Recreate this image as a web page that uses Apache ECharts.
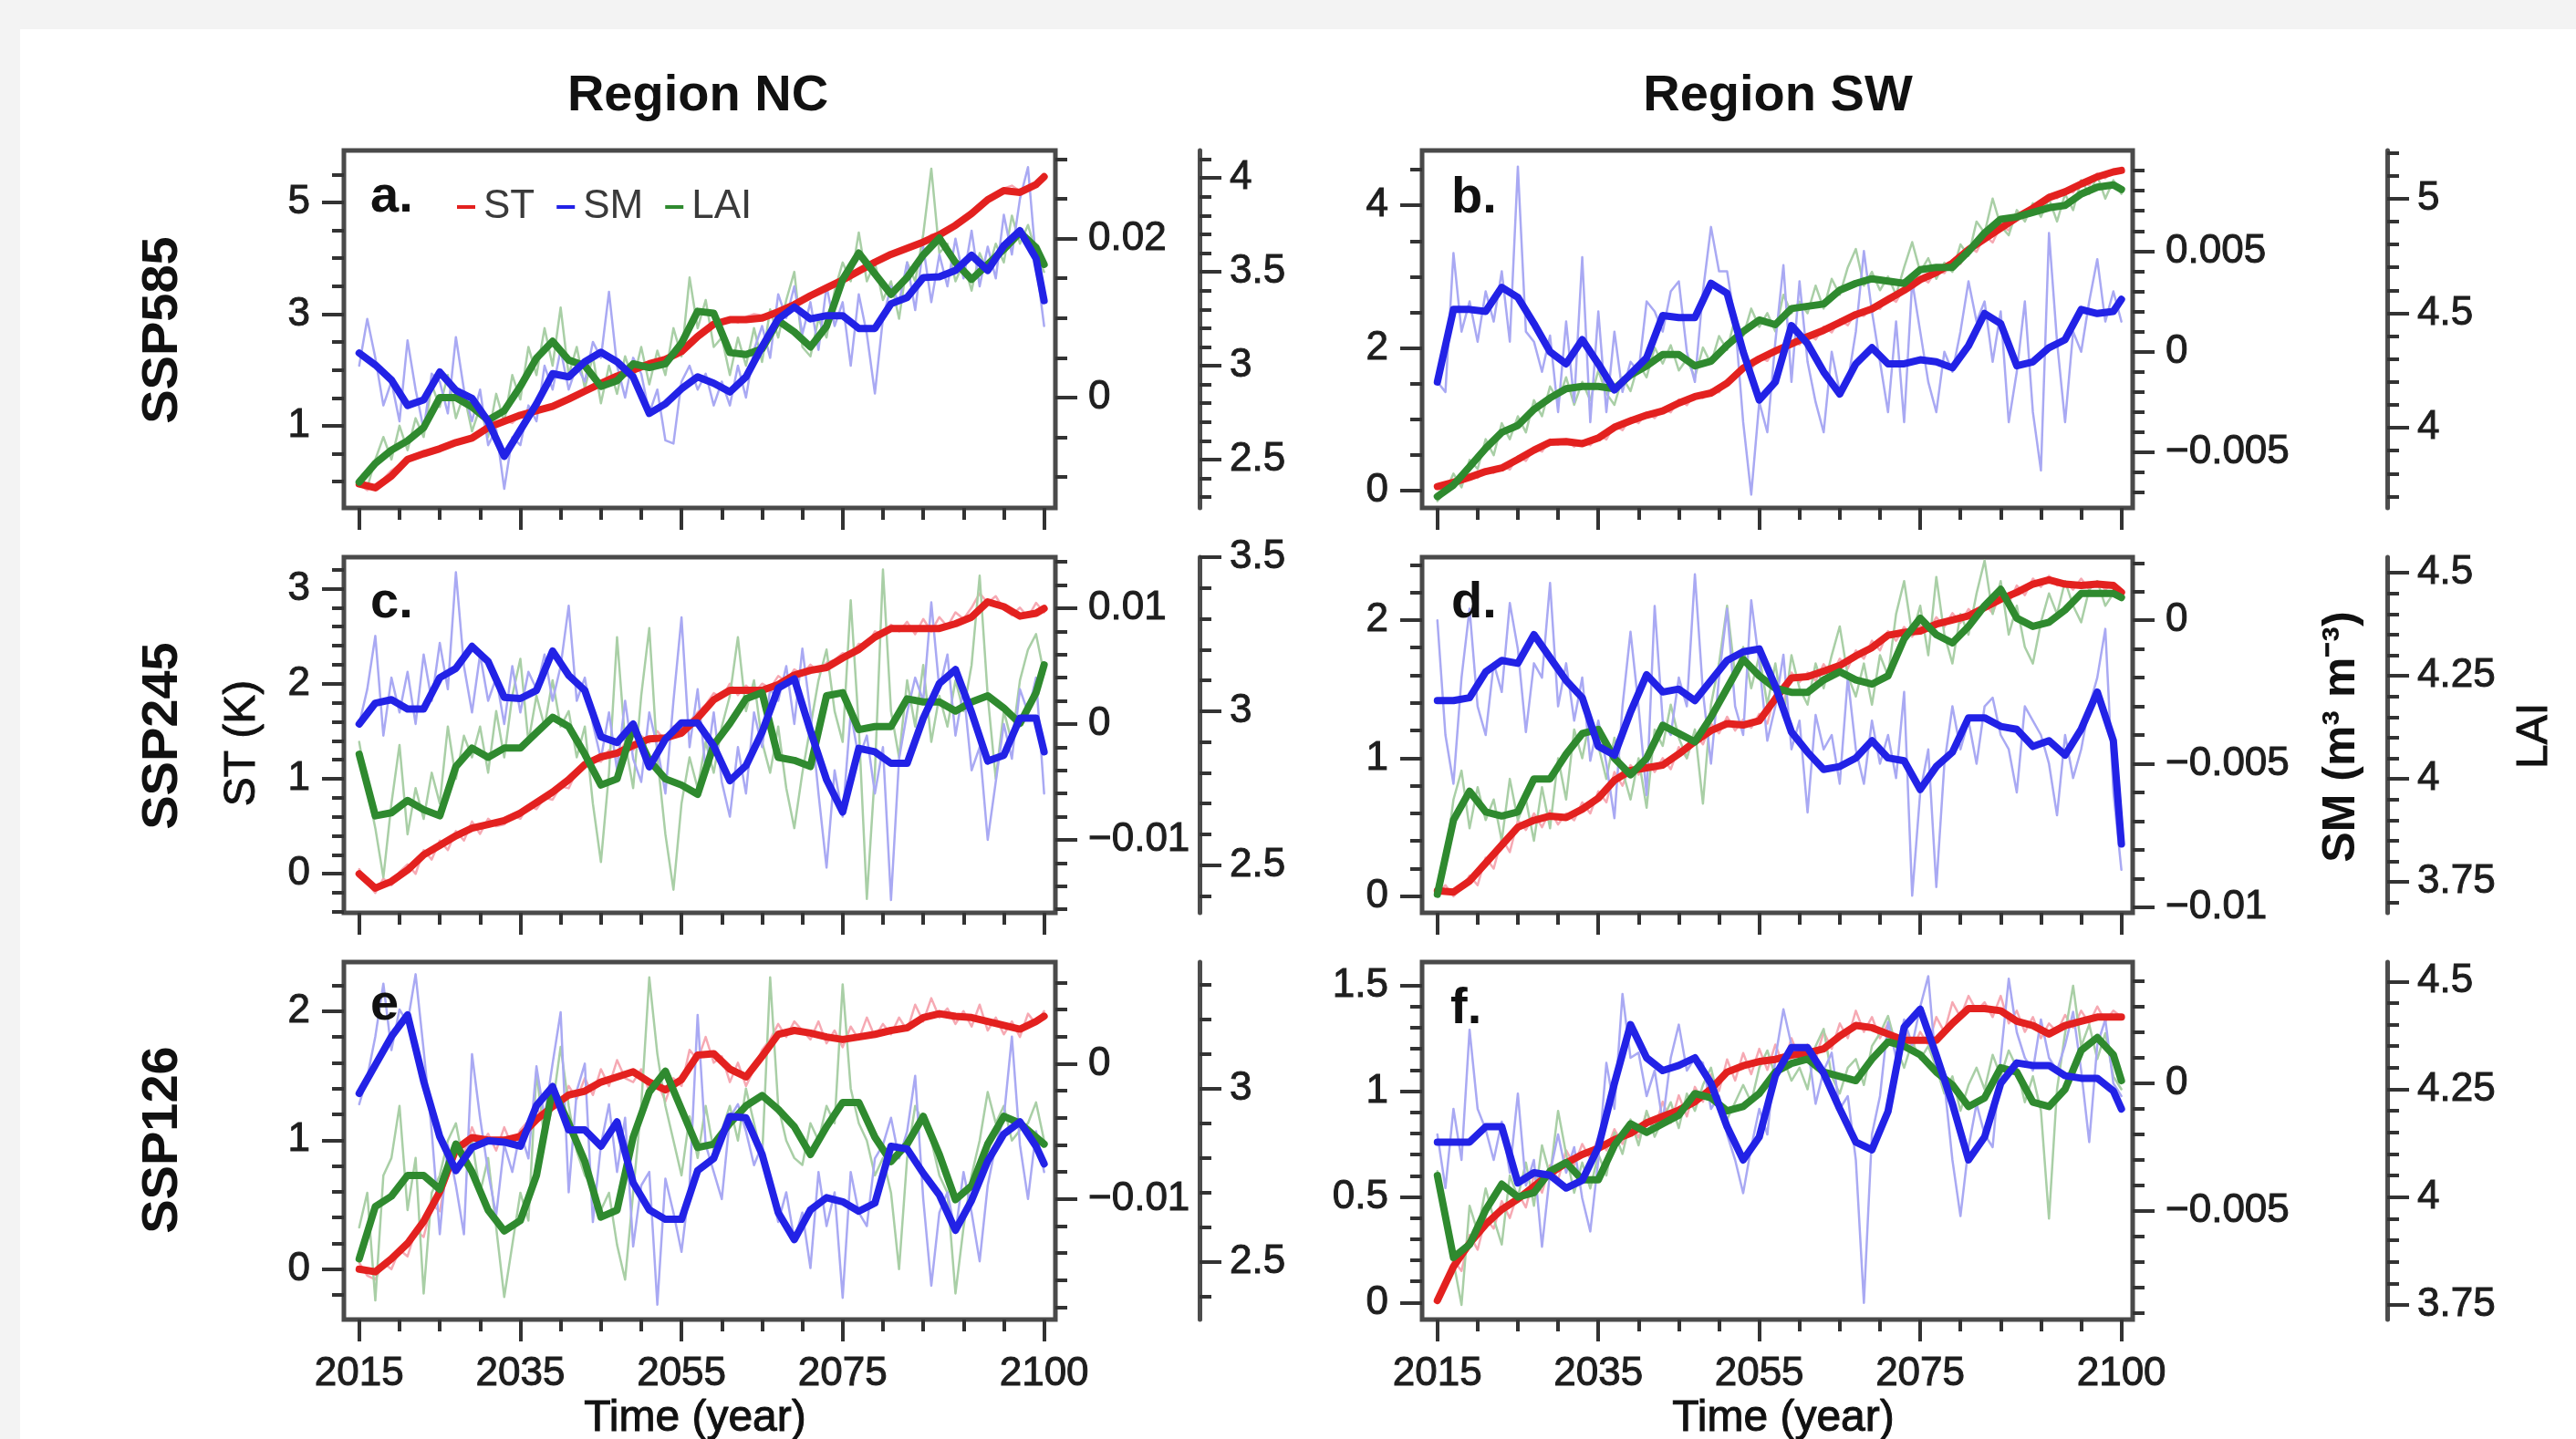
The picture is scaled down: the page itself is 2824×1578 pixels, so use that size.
<!DOCTYPE html>
<html>
<head>
<meta charset="utf-8">
<title>ST, SM and LAI, Region NC and SW</title>
<script src="https://cdn.jsdelivr.net/npm/echarts@6/dist/echarts.min.js"></script>
<style>
  html, body { margin: 0; padding: 0; background: #f3f3f3; }
  #chart { width: 2824px; height: 1578px; }
</style>
</head>
<body>
<div id="chart"></div>
<script>
// years of the annual (thin) and the smoothed (thick) curves
const yearsAnnual = [2015, 2016, 2017, 2018, 2019,
  2020, 2021, 2022, 2023, 2024, 2025, 2026, 2027, 2028, 2029,
  2030, 2031, 2032, 2033, 2034, 2035, 2036, 2037, 2038, 2039,
  2040, 2041, 2042, 2043, 2044, 2045, 2046, 2047, 2048, 2049,
  2050, 2051, 2052, 2053, 2054, 2055, 2056, 2057, 2058, 2059,
  2060, 2061, 2062, 2063, 2064, 2065, 2066, 2067, 2068, 2069,
  2070, 2071, 2072, 2073, 2074, 2075, 2076, 2077, 2078, 2079,
  2080, 2081, 2082, 2083, 2084, 2085, 2086, 2087, 2088, 2089,
  2090, 2091, 2092, 2093, 2094, 2095, 2096, 2097, 2098, 2099,
  2100];
const yearsSmooth = [2015, 2017, 2019, 2021, 2023, 2025, 2027, 2029, 2031, 2033,
  2035, 2037, 2039, 2041, 2043, 2045, 2047, 2049, 2051, 2053,
  2055, 2057, 2059, 2061, 2063, 2065, 2067, 2069, 2071, 2073,
  2075, 2077, 2079, 2081, 2083, 2085, 2087, 2089, 2091, 2093,
  2095, 2097, 2099, 2100];

// ---- a. SSP585, Region NC ----
const stSmoothA = [-0.04, -0.11, 0.10, 0.40, 0.50, 0.59, 0.70, 0.78, 0.97, 1.08, 1.19, 1.27, 1.35, 1.48, 1.62, 1.76, 1.89, 2.00, 2.11, 2.19, 2.33, 2.60, 2.82, 2.90, 2.90, 2.93, 3.04, 3.17, 3.33, 3.47, 3.61, 3.77, 3.93, 4.07, 4.18, 4.29, 4.42, 4.59, 4.80, 5.05, 5.21, 5.18, 5.32, 5.46];
const smSmoothA = [0.0056, 0.0041, 0.0022, -0.0010, -0.0003, 0.0032, 0.0009, -0.0001, -0.0030, -0.0074, -0.0041, -0.0008, 0.0030, 0.0026, 0.0045, 0.0057, 0.0045, 0.0026, -0.0020, -0.0008, 0.0011, 0.0026, 0.0018, 0.0007, 0.0026, 0.0064, 0.0099, 0.0114, 0.0099, 0.0103, 0.0103, 0.0087, 0.0087, 0.0118, 0.0126, 0.0151, 0.0152, 0.0160, 0.0179, 0.0160, 0.0191, 0.0210, 0.0175, 0.0122];
const laiSmoothA = [2.38, 2.48, 2.55, 2.60, 2.67, 2.83, 2.83, 2.78, 2.71, 2.76, 2.89, 3.04, 3.13, 3.03, 3.00, 2.89, 2.92, 3.01, 2.99, 3.01, 3.12, 3.29, 3.28, 3.07, 3.06, 3.09, 3.24, 3.18, 3.10, 3.21, 3.46, 3.60, 3.49, 3.38, 3.47, 3.59, 3.68, 3.55, 3.46, 3.54, 3.62, 3.71, 3.63, 3.54];
const stAnnualA = [-0.05, -0.15, -0.05, 0.05, 0.20,
  0.30, 0.42, 0.45, 0.55, 0.50, 0.62, 0.65, 0.72, 0.70, 0.82,
  0.90, 0.95, 1.05, 1.10, 1.05, 1.20, 1.22, 1.30, 1.32, 1.38,
  1.42, 1.50, 1.55, 1.62, 1.70, 1.75, 1.88, 1.90, 1.95, 2.02,
  2.08, 2.10, 2.12, 2.22, 2.25, 2.35, 2.50, 2.62, 2.70, 2.85,
  2.88, 2.92, 2.85, 2.95, 3.00, 2.98, 3.00, 3.05, 3.12, 3.18,
  3.25, 3.32, 3.40, 3.45, 3.55, 3.62, 3.70, 3.78, 3.80, 3.95,
  4.00, 4.08, 4.12, 4.20, 4.22, 4.30, 4.42, 4.45, 4.50, 4.60,
  4.70, 4.82, 4.92, 5.05, 5.15, 5.25, 5.30, 5.20, 5.25, 5.35,
  5.50];
const smAnnualA = [0.0040, 0.0099, 0.0050, -0.0010, 0.0020,
  -0.0030, 0.0072, 0.0010, -0.0040, 0.0030, 0.0020, -0.0020, 0.0076, 0.0010, -0.0030,
  0.0010, -0.0060, -0.0040, -0.0115, -0.0050, -0.0060, -0.0010, -0.0030, 0.0040, 0.0010,
  0.0060, 0.0010, 0.0040, 0.0020, 0.0070, 0.0050, 0.0133, 0.0040, 0.0000, 0.0050,
  0.0030, -0.0020, 0.0010, -0.0054, -0.0058, 0.0020, 0.0040, 0.0010, 0.0030, -0.0010,
  0.0020, -0.0010, 0.0040, 0.0000, 0.0060, 0.0090, 0.0050, 0.0130, 0.0100, 0.0140,
  0.0080, 0.0120, 0.0060, 0.0140, 0.0090, 0.0120, 0.0040, 0.0130, 0.0080, 0.0005,
  0.0100, 0.0140, 0.0120, 0.0170, 0.0110, 0.0190, 0.0120, 0.0180, 0.0140, 0.0200,
  0.0150, 0.0210, 0.0140, 0.0190, 0.0150, 0.0230, 0.0180, 0.0250, 0.0290, 0.0170,
  0.0090];
const laiAnnualA = [2.40, 2.35, 2.50, 2.62, 2.50,
  2.68, 2.55, 2.72, 2.62, 2.90, 2.78, 2.95, 2.72, 2.85, 2.65,
  2.78, 2.62, 2.85, 2.70, 2.95, 2.82, 3.10, 2.95, 3.20, 3.00,
  3.31, 2.95, 3.10, 2.88, 3.05, 2.80, 3.00, 2.85, 3.05, 2.92,
  3.10, 2.90, 3.08, 2.95, 3.20, 3.05, 3.47, 3.20, 3.35, 3.10,
  3.15, 2.95, 3.15, 3.00, 3.20, 3.02, 3.30, 3.15, 3.35, 3.50,
  3.10, 3.05, 3.25, 3.15, 3.40, 3.55, 3.45, 3.71, 3.45, 3.55,
  3.35, 3.45, 3.25, 3.55, 3.45, 3.70, 4.05, 3.60, 3.65, 3.45,
  3.55, 3.40, 3.60, 3.50, 3.65, 3.55, 3.80, 3.65, 3.75, 3.60,
  3.50];

// ---- b. SSP585, Region SW ----
const stSmoothB = [0.06, 0.12, 0.19, 0.27, 0.32, 0.44, 0.57, 0.68, 0.69, 0.66, 0.74, 0.89, 0.98, 1.06, 1.12, 1.23, 1.32, 1.37, 1.51, 1.72, 1.85, 1.96, 2.06, 2.16, 2.25, 2.36, 2.47, 2.55, 2.68, 2.81, 2.96, 3.06, 3.19, 3.38, 3.53, 3.68, 3.83, 3.96, 4.11, 4.19, 4.30, 4.40, 4.47, 4.49];
const smSmoothB = [-0.0015, 0.0021, 0.0021, 0.0020, 0.0032, 0.0027, 0.0014, 0.0000, -0.0006, 0.0006, -0.0006, -0.0019, -0.0011, -0.0003, 0.0018, 0.0017, 0.0017, 0.0034, 0.0029, 0.0000, -0.0024, -0.0015, 0.0013, 0.0004, -0.0010, -0.0021, -0.0006, 0.0002, -0.0006, -0.0006, -0.0004, -0.0005, -0.0008, 0.0003, 0.0019, 0.0014, -0.0007, -0.0005, 0.0002, 0.0006, 0.0021, 0.0019, 0.0020, 0.0026];
const laiSmoothB = [3.70, 3.75, 3.83, 3.91, 3.98, 4.01, 4.08, 4.13, 4.17, 4.18, 4.18, 4.17, 4.23, 4.27, 4.32, 4.32, 4.27, 4.29, 4.36, 4.42, 4.47, 4.45, 4.52, 4.53, 4.54, 4.60, 4.63, 4.65, 4.64, 4.63, 4.69, 4.70, 4.70, 4.77, 4.85, 4.91, 4.92, 4.94, 4.96, 4.97, 5.02, 5.05, 5.06, 5.04];
const stAnnualB = [0.05, 0.00, 0.15, 0.10, 0.22,
  0.18, 0.30, 0.25, 0.35, 0.30, 0.48, 0.42, 0.60, 0.55, 0.72,
  0.65, 0.72, 0.62, 0.70, 0.64, 0.78, 0.72, 0.92, 0.85, 1.02,
  0.95, 1.10, 1.02, 1.15, 1.10, 1.28, 1.20, 1.35, 1.30, 1.42,
  1.38, 1.55, 1.62, 1.75, 1.70, 1.88, 1.82, 2.00, 1.95, 2.10,
  2.05, 2.20, 2.12, 2.30, 2.22, 2.40, 2.32, 2.50, 2.45, 2.58,
  2.55, 2.72, 2.65, 2.85, 2.80, 3.00, 2.92, 3.10, 3.05, 3.22,
  3.18, 3.42, 3.35, 3.58, 3.48, 3.72, 3.65, 3.88, 3.80, 4.00,
  3.95, 4.15, 4.10, 4.22, 4.18, 4.35, 4.28, 4.45, 4.38, 4.50,
  4.48];
const smAnnualB = [-0.0015, -0.0020, 0.0049, 0.0010, 0.0025,
  0.0005, 0.0030, 0.0015, 0.0040, 0.0005, 0.0092, 0.0010, 0.0005, -0.0010, 0.0008,
  -0.0030, 0.0015, -0.0025, 0.0047, -0.0035, 0.0020, -0.0030, 0.0010, -0.0020, -0.0005,
  -0.0010, 0.0025, 0.0020, 0.0010, 0.0030, 0.0035, 0.0000, -0.0015, 0.0030, 0.0062,
  0.0040, 0.0040, 0.0015, -0.0035, -0.0071, -0.0025, -0.0040, 0.0005, 0.0043, -0.0015,
  0.0035, -0.0005, -0.0025, -0.0040, 0.0000, -0.0020, -0.0015, 0.0010, 0.0050, 0.0020,
  -0.0005, -0.0030, 0.0015, -0.0035, 0.0035, 0.0010, -0.0015, -0.0030, 0.0000, -0.0010,
  0.0010, 0.0035, 0.0015, 0.0025, -0.0005, 0.0020, -0.0035, -0.0010, 0.0025, -0.0030,
  -0.0059, 0.0059, 0.0005, -0.0035, 0.0010, 0.0000, 0.0025, 0.0046, 0.0015, 0.0030,
  0.0015];
const laiAnnualB = [3.68, 3.72, 3.80, 3.74, 3.86,
  3.82, 3.95, 3.88, 4.02, 3.95, 4.05, 3.98, 4.12, 4.05, 4.18,
  4.12, 4.22, 4.10, 4.20, 4.12, 4.25, 4.15, 4.10, 4.22, 4.16,
  4.28, 4.22, 4.35, 4.28, 4.36, 4.25, 4.30, 4.22, 4.35, 4.28,
  4.40, 4.34, 4.48, 4.40, 4.52, 4.44, 4.50, 4.42, 4.58, 4.50,
  4.55, 4.50, 4.62, 4.52, 4.65, 4.58, 4.70, 4.78, 4.62, 4.68,
  4.60, 4.66, 4.58, 4.70, 4.81, 4.68, 4.74, 4.65, 4.72, 4.68,
  4.80, 4.75, 4.90, 4.85, 5.00, 4.88, 4.84, 4.95, 4.90, 4.98,
  4.92, 5.00, 4.90, 5.02, 4.95, 5.08, 5.02, 5.10, 5.00, 5.08,
  5.02];

// ---- c. SSP245, Region NC ----
const stSmoothC = [0.00, -0.15, -0.08, 0.04, 0.20, 0.30, 0.40, 0.48, 0.52, 0.56, 0.64, 0.75, 0.86, 0.99, 1.15, 1.23, 1.27, 1.35, 1.42, 1.43, 1.48, 1.64, 1.83, 1.93, 1.93, 1.93, 1.99, 2.09, 2.14, 2.17, 2.27, 2.36, 2.49, 2.58, 2.58, 2.58, 2.58, 2.63, 2.70, 2.86, 2.81, 2.71, 2.74, 2.79];
const smSmoothC = [0.0000, 0.0018, 0.0021, 0.0013, 0.0013, 0.0040, 0.0048, 0.0067, 0.0054, 0.0023, 0.0022, 0.0029, 0.0063, 0.0042, 0.0029, -0.0011, -0.0016, 0.0000, -0.0037, -0.0013, 0.0001, 0.0001, -0.0019, -0.0049, -0.0036, -0.0007, 0.0031, 0.0039, -0.0006, -0.0048, -0.0076, -0.0021, -0.0024, -0.0034, -0.0034, 0.0005, 0.0035, 0.0047, 0.0010, -0.0032, -0.0027, 0.0005, 0.0005, -0.0024];
const laiSmoothC = [2.86, 2.66, 2.67, 2.71, 2.68, 2.66, 2.82, 2.88, 2.85, 2.88, 2.88, 2.93, 2.98, 2.95, 2.86, 2.76, 2.78, 2.95, 2.84, 2.78, 2.76, 2.73, 2.89, 2.96, 3.04, 3.06, 2.85, 2.84, 2.82, 3.05, 3.06, 2.94, 2.95, 2.95, 3.04, 3.03, 3.03, 3.00, 3.03, 3.05, 3.01, 2.96, 3.06, 3.15];
const stAnnualC = [0.05, -0.10, -0.20, -0.05, -0.12,
  0.02, 0.10, 0.00, 0.25, 0.15, 0.35, 0.25, 0.45, 0.35, 0.55,
  0.42, 0.58, 0.50, 0.52, 0.62, 0.58, 0.72, 0.68, 0.80, 0.78,
  0.92, 0.90, 1.08, 1.12, 1.20, 1.18, 1.30, 1.22, 1.38, 1.30,
  1.45, 1.38, 1.50, 1.40, 1.55, 1.45, 1.60, 1.70, 1.78, 1.90,
  1.85, 2.00, 1.88, 1.98, 1.90, 2.00, 1.95, 2.08, 2.02, 2.15,
  2.10, 2.20, 2.12, 2.22, 2.25, 2.32, 2.30, 2.42, 2.40, 2.55,
  2.52, 2.62, 2.55, 2.65, 2.52, 2.68, 2.55, 2.70, 2.60, 2.75,
  2.68, 2.80, 2.95, 2.85, 2.92, 2.78, 2.72, 2.80, 2.70, 2.85,
  2.75];
const smAnnualC = [0.0000, 0.0030, 0.0076, -0.0010, 0.0040,
  0.0010, 0.0045, 0.0000, 0.0060, 0.0020, 0.0070, 0.0030, 0.0131, 0.0050, 0.0010,
  0.0060, 0.0020, 0.0040, 0.0000, 0.0050, 0.0010, 0.0045, 0.0030, 0.0060, 0.0020,
  0.0050, 0.0102, 0.0020, 0.0040, 0.0000, -0.0030, 0.0010, -0.0040, 0.0020, -0.0030,
  -0.0050, 0.0010, -0.0020, -0.0060, 0.0020, 0.0092, -0.0020, 0.0030, -0.0040, 0.0010,
  -0.0050, -0.0080, -0.0020, -0.0060, 0.0010, -0.0020, 0.0030, 0.0020, 0.0050, 0.0000,
  0.0065, 0.0010, -0.0060, -0.0124, -0.0040, -0.0080, 0.0010, -0.0030, -0.0010, -0.0060,
  -0.0020, -0.0152, -0.0030, 0.0010, 0.0040, 0.0020, 0.0105, 0.0030, 0.0060, -0.0010,
  0.0030, -0.0040, -0.0020, -0.0100, -0.0050, 0.0000, -0.0030, 0.0030, 0.0010, 0.0040,
  -0.0060];
const laiAnnualC = [2.90, 2.75, 2.62, 2.46, 2.70,
  2.89, 2.60, 2.75, 2.65, 2.80, 2.70, 2.95, 2.78, 2.92, 2.85,
  2.95, 2.80, 3.00, 2.85, 3.05, 3.17, 2.90, 3.05, 2.95, 3.10,
  2.95, 3.00, 2.85, 2.95, 2.70, 2.51, 2.80, 3.24, 2.90, 2.75,
  3.05, 3.27, 2.85, 2.60, 2.42, 2.70, 2.85, 2.75, 2.90, 2.80,
  2.95, 3.05, 3.24, 3.00, 3.10, 2.90, 2.80, 2.95, 2.75, 2.62,
  2.80, 2.95, 3.10, 3.20, 3.00, 2.90, 3.36, 2.95, 2.39, 2.80,
  3.46, 3.00, 2.85, 3.10, 2.95, 3.15, 2.90, 3.05, 2.95, 3.10,
  3.00, 3.15, 3.44, 3.05, 2.78, 3.00, 2.90, 3.10, 3.20, 3.25,
  3.12];

// ---- d. SSP245, Region SW ----
const stSmoothD = [0.04, 0.03, 0.11, 0.24, 0.37, 0.50, 0.55, 0.58, 0.57, 0.63, 0.71, 0.84, 0.91, 0.93, 0.95, 1.03, 1.12, 1.20, 1.25, 1.24, 1.27, 1.43, 1.58, 1.59, 1.63, 1.67, 1.74, 1.80, 1.89, 1.91, 1.92, 1.97, 2.00, 2.03, 2.09, 2.15, 2.20, 2.26, 2.29, 2.26, 2.25, 2.26, 2.25, 2.20];
const smSmoothD = [-0.0028, -0.0028, -0.0027, -0.0018, -0.0014, -0.0015, -0.0005, -0.0013, -0.0021, -0.0027, -0.0044, -0.0047, -0.0032, -0.0019, -0.0025, -0.0024, -0.0028, -0.0021, -0.0014, -0.0011, -0.0010, -0.0023, -0.0039, -0.0046, -0.0052, -0.0051, -0.0048, -0.0042, -0.0048, -0.0049, -0.0059, -0.0051, -0.0046, -0.0034, -0.0034, -0.0037, -0.0038, -0.0044, -0.0042, -0.0047, -0.0038, -0.0025, -0.0042, -0.0078];
const laiSmoothD = [3.72, 3.90, 3.97, 3.92, 3.91, 3.92, 4.00, 4.00, 4.06, 4.11, 4.12, 4.05, 4.01, 4.05, 4.13, 4.11, 4.09, 4.15, 4.22, 4.29, 4.25, 4.22, 4.21, 4.21, 4.24, 4.26, 4.24, 4.23, 4.25, 4.34, 4.39, 4.35, 4.33, 4.37, 4.42, 4.46, 4.39, 4.37, 4.38, 4.41, 4.45, 4.45, 4.45, 4.44];
const stAnnualD = [0.02, 0.08, 0.00, 0.06, 0.15,
  0.08, 0.28, 0.20, 0.42, 0.32, 0.55, 0.48, 0.60, 0.50, 0.62,
  0.52, 0.60, 0.55, 0.68, 0.60, 0.76, 0.68, 0.90, 0.80, 0.95,
  0.88, 0.98, 0.90, 1.00, 0.92, 1.08, 1.00, 1.18, 1.10, 1.25,
  1.18, 1.30, 1.20, 1.28, 1.22, 1.32, 1.25, 1.48, 1.40, 1.62,
  1.55, 1.62, 1.56, 1.68, 1.60, 1.72, 1.65, 1.78, 1.72, 1.85,
  1.78, 1.92, 1.85, 1.95, 1.88, 1.96, 1.92, 2.02, 1.95, 2.05,
  1.98, 2.08, 2.02, 2.12, 2.05, 2.20, 2.12, 2.25, 2.18, 2.30,
  2.24, 2.32, 2.25, 2.28, 2.22, 2.30, 2.22, 2.28, 2.22, 2.27,
  2.18];
const smAnnualD = [0.0000, -0.0040, -0.0057, -0.0020, 0.0004,
  -0.0030, -0.0040, -0.0015, -0.0025, 0.0006, -0.0010, -0.0039, -0.0015, -0.0020, 0.0013,
  -0.0030, -0.0015, -0.0035, -0.0020, -0.0049, -0.0035, -0.0050, -0.0069, -0.0030, -0.0004,
  -0.0030, -0.0061, 0.0005, -0.0035, -0.0040, -0.0020, -0.0030, 0.0016, -0.0025, -0.0050,
  -0.0020, 0.0004, -0.0030, -0.0040, 0.0007, -0.0015, -0.0042, -0.0030, -0.0012, -0.0045,
  -0.0035, -0.0067, -0.0033, -0.0045, -0.0040, -0.0057, -0.0020, -0.0045, -0.0057, -0.0035,
  -0.0050, -0.0040, -0.0055, -0.0025, -0.0096, -0.0060, -0.0045, -0.0093, -0.0050, -0.0030,
  -0.0045, -0.0035, -0.0050, -0.0030, -0.0027, -0.0040, -0.0045, -0.0060, -0.0030, -0.0035,
  -0.0040, -0.0050, -0.0068, -0.0040, -0.0055, -0.0045, -0.0030, -0.0020, -0.0003, -0.0060,
  -0.0087];
const laiAnnualD = [3.72, 3.80, 3.95, 4.02, 3.88,
  3.98, 3.90, 3.95, 3.85, 4.00, 3.90, 3.95, 3.85, 3.98, 3.88,
  4.05, 3.95, 4.12, 4.05, 4.15, 4.08, 4.00, 4.10, 4.02, 3.95,
  4.05, 3.93, 4.12, 4.08, 4.18, 4.10, 4.05, 4.12, 3.94, 4.18,
  4.28, 4.42, 4.25, 4.32, 4.22, 4.30, 4.18, 4.28, 4.15, 4.30,
  4.22, 4.18, 4.28, 4.22, 4.30, 4.37, 4.25, 4.20, 4.28, 4.18,
  4.30, 4.25, 4.40, 4.48, 4.35, 4.42, 4.30, 4.49, 4.35, 4.28,
  4.40, 4.35, 4.45, 4.53, 4.40, 4.48, 4.35, 4.42, 4.32, 4.28,
  4.38, 4.45, 4.40, 4.48, 4.42, 4.38, 4.46, 4.48, 4.42, 4.45,
  4.44];

// ---- e. SSP126, Region NC ----
const stSmoothE = [0.00, -0.02, 0.08, 0.20, 0.37, 0.60, 0.93, 1.02, 1.00, 1.00, 1.03, 1.16, 1.26, 1.35, 1.38, 1.45, 1.49, 1.53, 1.45, 1.39, 1.47, 1.66, 1.67, 1.55, 1.49, 1.65, 1.82, 1.85, 1.83, 1.80, 1.78, 1.80, 1.82, 1.85, 1.87, 1.95, 1.98, 1.96, 1.95, 1.92, 1.89, 1.86, 1.92, 1.96];
const smSmoothE = [-0.0022, -0.0001, 0.0020, 0.0036, -0.0013, -0.0054, -0.0079, -0.0062, -0.0057, -0.0058, -0.0061, -0.0031, -0.0017, -0.0049, -0.0049, -0.0061, -0.0043, -0.0088, -0.0108, -0.0115, -0.0115, -0.0079, -0.0070, -0.0039, -0.0040, -0.0067, -0.0110, -0.0130, -0.0108, -0.0099, -0.0102, -0.0109, -0.0103, -0.0061, -0.0063, -0.0081, -0.0097, -0.0123, -0.0101, -0.0072, -0.0052, -0.0043, -0.0061, -0.0074];
const laiSmoothE = [2.51, 2.66, 2.69, 2.75, 2.75, 2.71, 2.84, 2.76, 2.65, 2.59, 2.62, 2.75, 3.00, 2.90, 2.79, 2.63, 2.65, 2.86, 2.99, 3.05, 2.94, 2.83, 2.84, 2.90, 2.95, 2.98, 2.94, 2.89, 2.81, 2.89, 2.96, 2.96, 2.86, 2.79, 2.84, 2.92, 2.81, 2.68, 2.72, 2.84, 2.92, 2.90, 2.86, 2.84];
const stAnnualE = [0.05, -0.05, -0.08, 0.05, 0.00,
  0.15, 0.10, 0.30, 0.25, 0.50, 0.45, 0.80, 0.95, 0.90, 1.10,
  0.95, 1.05, 0.92, 1.10, 0.95, 1.08, 1.15, 1.25, 1.15, 1.35,
  1.25, 1.42, 1.32, 1.48, 1.35, 1.55, 1.42, 1.62, 1.48, 1.45,
  1.55, 1.38, 1.45, 1.30, 1.48, 1.42, 1.70, 1.62, 1.80, 1.60,
  1.65, 1.45, 1.60, 1.42, 1.55, 1.70, 1.78, 1.90, 1.80, 1.92,
  1.85, 1.78, 1.92, 1.75, 1.85, 1.72, 1.88, 1.78, 1.95, 1.80,
  1.90, 1.82, 1.95, 1.85, 2.05, 1.92, 2.10, 1.95, 2.02, 1.90,
  2.00, 1.88, 2.05, 1.85, 1.95, 1.82, 1.92, 1.80, 1.98, 1.90,
  2.00];
const smAnnualE = [-0.0030, -0.0010, 0.0020, 0.0059, 0.0010,
  0.0040, 0.0030, 0.0066, 0.0010, -0.0050, -0.0126, -0.0060, -0.0090, -0.0126, 0.0007,
  -0.0040, -0.0080, -0.0112, -0.0060, -0.0080, -0.0050, -0.0070, -0.0002, -0.0040, 0.0000,
  0.0038, -0.0095, -0.0020, 0.0000, -0.0117, -0.0060, -0.0030, -0.0080, -0.0040, -0.0135,
  -0.0090, -0.0080, -0.0178, -0.0085, -0.0110, -0.0139, -0.0090, 0.0036, -0.0060, -0.0080,
  -0.0100, -0.0040, -0.0030, -0.0050, -0.0075, -0.0060, -0.0090, -0.0117, -0.0095, -0.0130,
  -0.0110, -0.0151, -0.0080, -0.0120, -0.0095, -0.0173, -0.0080, -0.0110, -0.0120, -0.0070,
  -0.0060, -0.0040, -0.0070, -0.0050, -0.0009, -0.0100, -0.0164, -0.0110, -0.0095, -0.0125,
  -0.0080, -0.0110, -0.0146, -0.0090, -0.0060, -0.0040, 0.0020, -0.0060, -0.0100, -0.0050,
  -0.0080];
const laiAnnualE = [2.60, 2.70, 2.39, 2.75, 2.80,
  2.95, 2.65, 2.80, 2.41, 2.70, 2.75, 2.85, 2.90, 2.78, 2.85,
  2.70, 2.80, 2.60, 2.40, 2.55, 2.70, 2.62, 3.05, 2.85, 2.95,
  3.12, 2.95, 2.82, 2.75, 2.72, 2.65, 2.70, 2.55, 2.45, 2.70,
  2.95, 3.32, 3.10, 2.95, 2.85, 2.75, 2.92, 2.80, 2.95, 2.82,
  2.88, 2.95, 2.85, 3.00, 2.90, 2.80, 3.32, 2.95, 2.85, 2.80,
  2.78, 2.90, 2.85, 2.95, 2.90, 3.30, 3.00, 2.90, 2.85, 2.75,
  2.80, 2.70, 2.48, 2.80, 2.95, 2.90, 2.85, 2.75, 2.70, 2.41,
  2.60, 2.75, 2.85, 2.99, 2.90, 2.95, 2.85, 2.88, 2.90, 2.96,
  2.85];

// ---- f. SSP126, Region SW ----
const stSmoothF = [0.01, 0.17, 0.28, 0.37, 0.44, 0.49, 0.55, 0.61, 0.66, 0.70, 0.73, 0.77, 0.80, 0.85, 0.88, 0.91, 0.95, 1.01, 1.09, 1.12, 1.14, 1.15, 1.17, 1.18, 1.20, 1.26, 1.31, 1.30, 1.27, 1.24, 1.24, 1.24, 1.32, 1.39, 1.39, 1.38, 1.33, 1.31, 1.27, 1.31, 1.33, 1.35, 1.35, 1.35];
const smSmoothF = [-0.0023, -0.0023, -0.0023, -0.0017, -0.0017, -0.0039, -0.0035, -0.0036, -0.0041, -0.0038, -0.0025, 0.0000, 0.0023, 0.0010, 0.0005, 0.0007, 0.0010, 0.0000, -0.0017, -0.0030, -0.0021, 0.0003, 0.0014, 0.0014, 0.0004, -0.0010, -0.0023, -0.0026, -0.0011, 0.0022, 0.0029, 0.0011, -0.0008, -0.0030, -0.0021, 0.0000, 0.0008, 0.0007, 0.0007, 0.0003, 0.0002, 0.0002, -0.0003, -0.0010];
const laiSmoothF = [4.05, 3.86, 3.89, 3.97, 4.03, 4.00, 4.01, 4.06, 4.08, 4.04, 4.04, 4.12, 4.17, 4.15, 4.17, 4.19, 4.24, 4.23, 4.20, 4.21, 4.24, 4.29, 4.31, 4.32, 4.29, 4.28, 4.27, 4.32, 4.36, 4.35, 4.33, 4.29, 4.26, 4.21, 4.23, 4.30, 4.29, 4.22, 4.21, 4.25, 4.34, 4.37, 4.33, 4.27];
const stAnnualF = [0.00, 0.10, 0.20, 0.15, 0.32,
  0.25, 0.40, 0.35, 0.48, 0.40, 0.52, 0.45, 0.60, 0.52, 0.65,
  0.58, 0.72, 0.65, 0.75, 0.68, 0.78, 0.72, 0.82, 0.75, 0.85,
  0.78, 0.90, 0.82, 0.95, 0.85, 0.98, 0.88, 1.02, 0.95, 1.08,
  1.00, 1.15, 1.05, 1.18, 1.08, 1.20, 1.10, 1.22, 1.12, 1.25,
  1.15, 1.22, 1.15, 1.28, 1.20, 1.32, 1.25, 1.38, 1.28, 1.35,
  1.25, 1.32, 1.22, 1.30, 1.20, 1.28, 1.22, 1.35, 1.28, 1.42,
  1.35, 1.45, 1.38, 1.42, 1.35, 1.45, 1.32, 1.38, 1.28, 1.35,
  1.25, 1.32, 1.28, 1.36, 1.30, 1.38, 1.32, 1.40, 1.33, 1.38,
  1.35];
const smAnnualF = [-0.0020, -0.0041, -0.0010, -0.0030, 0.0021,
  -0.0010, -0.0018, -0.0030, -0.0015, -0.0035, -0.0004, -0.0040, -0.0030, -0.0064, -0.0035,
  -0.0020, -0.0035, -0.0025, -0.0045, -0.0058, -0.0030, 0.0008, -0.0010, 0.0035, 0.0010,
  0.0012, -0.0005, 0.0005, -0.0015, 0.0010, 0.0023, 0.0005, 0.0010, 0.0008, -0.0010,
  -0.0005, -0.0020, -0.0030, -0.0043, -0.0025, -0.0010, -0.0020, 0.0010, 0.0029, 0.0015,
  0.0010, 0.0015, -0.0008, 0.0005, 0.0012, -0.0010, -0.0005, -0.0030, -0.0086, -0.0020,
  -0.0005, 0.0024, 0.0010, 0.0025, 0.0015, 0.0030, 0.0042, 0.0005, 0.0000, -0.0030,
  -0.0052, -0.0025, -0.0008, -0.0020, -0.0025, 0.0010, 0.0041, 0.0020, 0.0010, 0.0005,
  0.0025, 0.0010, 0.0005, 0.0015, 0.0028, 0.0005, -0.0023, 0.0015, 0.0025, 0.0000,
  -0.0005];
const laiAnnualF = [4.06, 3.95, 3.85, 3.75, 3.98,
  3.92, 4.02, 3.95, 3.89, 4.05, 4.00, 4.08, 3.98, 4.12, 4.05,
  4.20, 4.10, 4.01, 4.08, 4.02, 4.10, 4.05, 4.15, 4.10, 4.18,
  4.12, 4.20, 4.14, 4.18, 4.22, 4.16, 4.24, 4.20, 4.26, 4.30,
  4.22, 4.18, 4.22, 4.26, 4.22, 4.30, 4.34, 4.28, 4.32, 4.27,
  4.30, 4.25, 4.35, 4.39, 4.28, 4.24, 4.30, 4.32, 4.26, 4.35,
  4.38, 4.42, 4.35, 4.30, 4.36, 4.32, 4.35, 4.30, 4.24, 4.28,
  4.20, 4.26, 4.30, 4.25, 4.33, 4.28, 4.34, 4.30, 4.22, 4.28,
  4.20, 3.95, 4.25, 4.38, 4.49, 4.35, 4.40, 4.32, 4.38, 4.28,
  4.25];

// axis extents and tick labels, panels in order a b c d e f
const xRange = [2013.1, 2101.4];
const xLabelTicks = [2015, 2035, 2055, 2075, 2100];
const xMinorTicks = [2015, 2020, 2025, 2030, 2035, 2040, 2045, 2050, 2055, 2060, 2065, 2070, 2075, 2080, 2085, 2090, 2095, 2100];
const stRanges = [[-0.47, 5.93], [-0.24, 4.77], [-0.41, 3.33], [-0.12, 2.455], [-0.39, 2.38], [-0.08, 1.61]];
const smRanges = [[-0.0139, 0.0311], [-0.00776, 0.01], [-0.0163, 0.0144], [-0.0102, 0.0022], [-0.0189, 0.0075], [-0.00925, 0.00475]];
const laiRanges = [[2.242, 4.147], [3.65, 5.21], [2.345, 3.5], [3.675, 4.538], [2.335, 3.364], [3.716, 4.545]];
const stLabels = [[1, 3, 5], [0, 2, 4], [0, 1, 2, 3], [0, 1, 2], [0, 1, 2], [0, 0.5, 1, 1.5]];
const smLabels = [[0, 0.02], [-0.005, 0, 0.005], [-0.01, 0, 0.01], [-0.01, -0.005, 0], [-0.01, 0], [-0.005, 0]];
const laiLabels = [[2.5, 3, 3.5, 4], [4, 4.5, 5], [2.5, 3, 3.5], [3.75, 4, 4.25, 4.5], [2.5, 3], [3.75, 4, 4.25, 4.5]];
// minor ticks: [first, last, step]
const stMinor = [[0, 5.5, 0.5], [0, 4.5, 0.5], [-0.4, 3.2, 0.2], [0, 2.4, 0.2], [-0.2, 2.2, 0.2], [0, 1.5, 0.1]];
const smMinor = [[-0.01, 0.03, 0.005], [-0.007, 0.009, 0.001], [-0.016, 0.014, 0.002], [-0.01, 0.002, 0.001], [-0.018, 0.006, 0.002], [-0.009, 0.004, 0.001]];
const laiMinor = [[2.3, 4.1, 0.1], [3.7, 5.2, 0.1], [2.4, 3.5, 0.1], [3.7, 4.5, 0.05], [2.4, 3.3, 0.1], [3.75, 4.5, 0.05]];

const panelLetters = ['a.', 'b.', 'c.', 'd.', 'e', 'f.'];
const stSmooth = [stSmoothA, stSmoothB, stSmoothC, stSmoothD, stSmoothE, stSmoothF];
const smSmooth = [smSmoothA, smSmoothB, smSmoothC, smSmoothD, smSmoothE, smSmoothF];
const laiSmooth = [laiSmoothA, laiSmoothB, laiSmoothC, laiSmoothD, laiSmoothE, laiSmoothF];
const stAnnual = [stAnnualA, stAnnualB, stAnnualC, stAnnualD, stAnnualE, stAnnualF];
const smAnnual = [smAnnualA, smAnnualB, smAnnualC, smAnnualD, smAnnualE, smAnnualF];
const laiAnnual = [laiAnnualA, laiAnnualB, laiAnnualC, laiAnnualD, laiAnnualE, laiAnnualF];

// layout
const colLeft = [377, 1559];
const colWidth = [780, 779];
const rowTop = [165, 611, 1055];
const rowHeight = [392, 390, 392];
const laiOffset = [158, 279];

const FONT = '"Liberation Sans", Arial, Helvetica, sans-serif';
const colors = { st: '#e3211f', sm: '#2222e6', lai: '#2f8a2f' };
const thinColors = { st: '#f6a9b3', sm: '#a9a9f3', lai: '#a9cfa6' };
const tickLine = { color: '#333', width: 4 };
// tick labels are a little heavier than regular weight in the figure
const labelStyle = { fontSize: 44, color: '#1e1e1e', fontFamily: FONT, textBorderColor: '#1e1e1e', textBorderWidth: 1 };

function ticksFrom([first, last, step]) {
  const n = Math.round((last - first) / step);
  const out = [];
  for (let k = 0; k <= n; k++) out.push(+(first + k * step).toFixed(4));
  return out;
}
function fmt(v) {
  const s = String(+Number(v).toFixed(4));
  return v < 0 ? '\u2212' + s.slice(1) : s;
}

const grid = [], xAxis = [], yAxis = [], series = [];

function yPair(i, pos, offset, range, minor, labels, showLine, margin) {
  const base = {
    gridIndex: i, type: 'value', min: range[0], max: range[1],
    position: pos, offset: offset, splitLine: { show: false }
  };
  return [
    Object.assign({}, base, {
      axisLine: { show: false, onZero: false },
      axisLabel: { show: false },
      axisTick: { show: true, customValues: minor, length: 13, lineStyle: tickLine }
    }),
    Object.assign({}, base, {
      axisLine: { show: showLine, onZero: false, lineStyle: { color: '#4d4d4d', width: 5 } },
      axisTick: { show: true, customValues: labels, length: 24, lineStyle: tickLine },
      axisLabel: Object.assign({ show: true, customValues: labels, margin: margin, formatter: fmt }, labelStyle)
    })
  ];
}

function line(name, i, yIdx, xs, ys, color, width, z) {
  return {
    name: name, type: 'line', xAxisIndex: i * 2 + 1, yAxisIndex: i * 6 + yIdx,
    data: xs.map((x, k) => [x, ys[k]]),
    symbol: 'none', color: color, z: z, silent: true,
    lineStyle: { color: color, width: width, cap: 'round', join: 'round' }
  };
}

for (let i = 0; i < 6; i++) {
  const col = i % 2, row = Math.floor(i / 2);
  grid.push({
    left: colLeft[col], top: rowTop[row], width: colWidth[col], height: rowHeight[row],
    show: true, borderColor: '#4a4a4a', borderWidth: 5, backgroundColor: 'transparent'
  });
  const xBase = {
    gridIndex: i, type: 'value', min: xRange[0], max: xRange[1], position: 'bottom',
    axisLine: { show: false, onZero: false }, splitLine: { show: false }
  };
  xAxis.push(Object.assign({}, xBase, {
    axisLabel: { show: false },
    axisTick: { show: true, customValues: xMinorTicks, length: 13, lineStyle: tickLine }
  }));
  xAxis.push(Object.assign({}, xBase, {
    axisTick: { show: true, customValues: xLabelTicks, length: 24, lineStyle: tickLine },
    axisLabel: Object.assign({ show: row === 2, customValues: xLabelTicks, margin: 38, formatter: v => String(v) }, labelStyle)
  }));

  yAxis.push(...yPair(i, 'left', 0, stRanges[i], ticksFrom(stMinor[i]), stLabels[i], false, 37));
  yAxis.push(...yPair(i, 'right', 0, smRanges[i], ticksFrom(smMinor[i]), smLabels[i], false, 36));
  yAxis.push(...yPair(i, 'right', laiOffset[col], laiRanges[i], ticksFrom(laiMinor[i]), laiLabels[i], true, 33));

  series.push(line('ST annual', i, 1, yearsAnnual, stAnnual[i], thinColors.st, 2.5, 2));
  series.push(line('LAI annual', i, 5, yearsAnnual, laiAnnual[i], thinColors.lai, 2.5, 2));
  series.push(line('SM annual', i, 3, yearsAnnual, smAnnual[i], thinColors.sm, 2.5, 2));
  series.push(line('ST', i, 1, yearsSmooth, stSmooth[i], colors.st, 8, 3));
  series.push(line('LAI', i, 5, yearsSmooth, laiSmooth[i], colors.lai, 8, 3));
  series.push(line('SM', i, 3, yearsSmooth, smSmooth[i], colors.sm, 8, 3));
}

function txt(text, x, y, size, weight, rotate, extra) {
  return {
    type: 'text', x: x, y: y, rotation: rotate ? Math.PI / 2 : 0, z: 50,
    style: Object.assign({
      text: text, fontSize: size, fontWeight: weight, fontFamily: FONT,
      fill: '#111', align: 'center', verticalAlign: 'middle'
    }, extra || {})
  };
}

const heavy = { stroke: '#111', lineWidth: 1 };
const letterPos = [[406, 217], [1591, 218], [406, 662], [1591, 662], [406, 1103], [1590, 1107]];
const graphic = [
  { type: 'rect', z: -100, shape: { x: 22, y: 32, width: 2802, height: 1546 }, style: { fill: '#ffffff' } },
  txt('Region NC', 765, 106, 56, 'bold'),
  txt('Region SW', 1949, 106, 56, 'bold'),
  txt('SSP585', 179, 362, 56, 'bold', true),
  txt('SSP245', 179, 807, 56, 'bold', true),
  txt('SSP126', 179, 1250, 56, 'bold', true),
  txt('ST (K)', 266, 815, 48, 'normal', true, heavy),
  txt('SM (m\u00b3 m\u207b\u00b3)', 2567, 808, 50, 'bold', true),
  txt('LAI', 2779, 807, 48, 'normal', true, heavy),
  txt('Time (year)', 762, 1556, 48, 'normal', false, heavy),
  txt('Time (year)', 1955, 1556, 48, 'normal', false, heavy)
];
panelLetters.forEach((t, i) => {
  graphic.push(txt(t, letterPos[i][0], letterPos[i][1], 56, 'bold', false, { align: 'left' }));
});

const chart = echarts.init(document.getElementById('chart'));
chart.setOption({
  animation: false,
  backgroundColor: 'transparent',
  grid: grid,
  xAxis: xAxis,
  yAxis: yAxis,
  series: series,
  graphic: graphic,
  legend: {
    data: ['ST', 'SM', 'LAI'],
    left: 496, top: 200,
    icon: 'rect', itemWidth: 20, itemHeight: 4, itemGap: 24,
    selectedMode: false,
    textStyle: { fontSize: 44, color: '#3a3a3a', fontFamily: FONT, padding: [0, 0, 0, 4] }
  }
});
</script>
</body>
</html>
